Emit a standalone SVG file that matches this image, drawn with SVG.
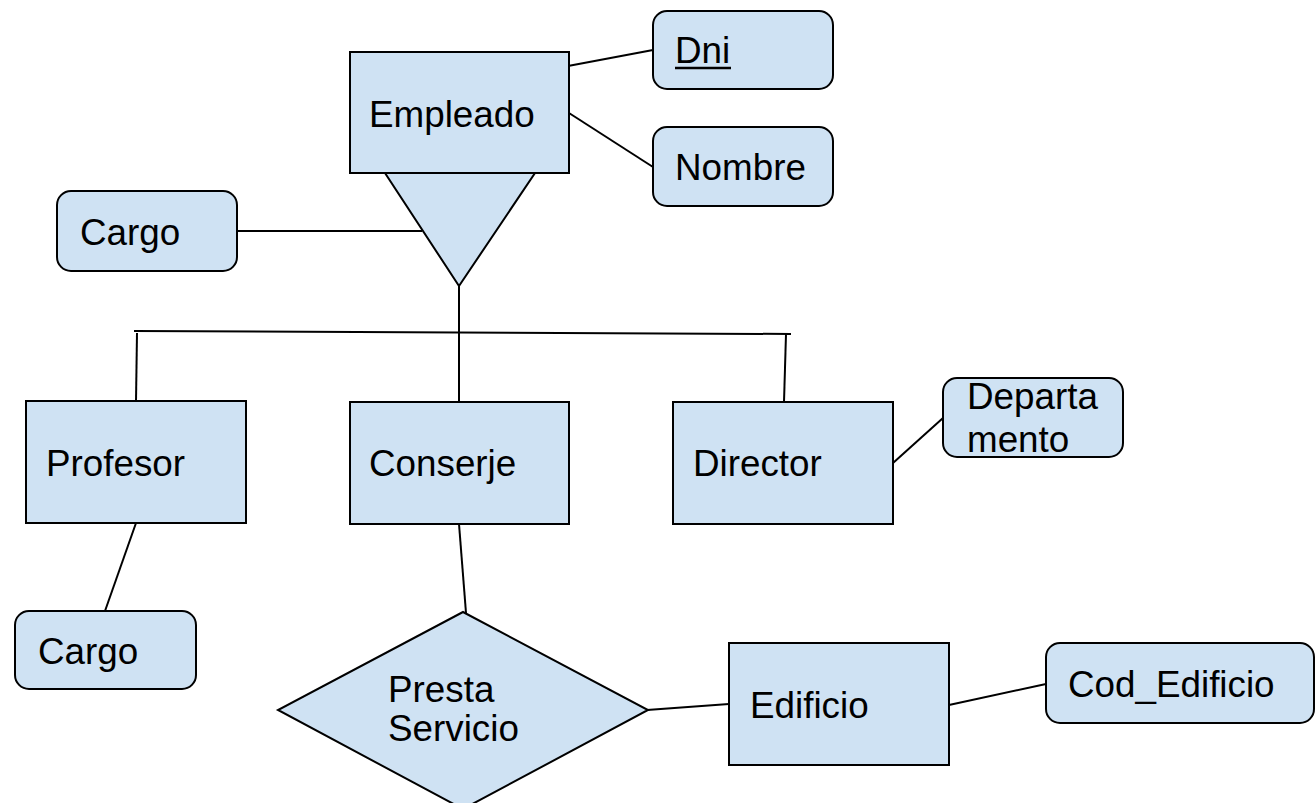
<svg xmlns="http://www.w3.org/2000/svg" width="1316" height="803" viewBox="0 0 1316 803">
<style>
.ent{fill:#cfe2f3;stroke:#000;stroke-width:2}
.attr{fill:#cfe2f3;stroke:#000;stroke-width:2}
.ln{stroke:#000;stroke-width:2;fill:none}
text{font-family:"Liberation Sans",Arial,sans-serif;font-size:36.8px;fill:#000}
</style>
<rect width="1316" height="803" fill="#fff"/>
<g id="connectors">
<line class="ln" x1="568" y1="66" x2="653" y2="50"/>
<line class="ln" x1="569" y1="113" x2="653" y2="167"/>
<line class="ln" x1="237" y1="231" x2="422" y2="231"/>
<line class="ln" x1="459" y1="286" x2="459" y2="402"/>
<line class="ln" x1="134" y1="331" x2="791" y2="334"/>
<line class="ln" x1="137" y1="333" x2="136" y2="401"/>
<line class="ln" x1="786" y1="334" x2="784" y2="402"/>
<line class="ln" x1="893" y1="463" x2="943" y2="418"/>
<line class="ln" x1="136" y1="523" x2="105" y2="611"/>
<line class="ln" x1="459" y1="524" x2="466" y2="613"/>
<line class="ln" x1="647" y1="710" x2="729" y2="704"/>
<line class="ln" x1="949" y1="705" x2="1046" y2="684"/>
</g>
<g id="isa">
<polygon class="ent" points="385,173 535,173 459,286"/>
</g>
<g id="empleado">
<rect class="ent" x="350" y="52" width="219" height="121"/>
<text x="369" y="127">Empleado</text>
</g>
<g id="dni">
<rect class="attr" x="653" y="11" width="180" height="78" rx="14"/>
<text x="675" y="63">Dni</text>
<line x1="675" y1="68" x2="731" y2="68" stroke="#000" stroke-width="2.5"/>
</g>
<g id="nombre">
<rect class="attr" x="653" y="127" width="180" height="79" rx="14"/>
<text x="675" y="180">Nombre</text>
</g>
<g id="cargo1">
<rect class="attr" x="57" y="191" width="180" height="80" rx="14"/>
<text x="80" y="245">Cargo</text>
</g>
<g id="profesor">
<rect class="ent" x="26" y="401" width="220" height="122"/>
<text x="46" y="476">Profesor</text>
</g>
<g id="conserje">
<rect class="ent" x="350" y="402" width="219" height="122"/>
<text x="369" y="476">Conserje</text>
</g>
<g id="director">
<rect class="ent" x="673" y="402" width="220" height="122"/>
<text x="693" y="476">Director</text>
</g>
<g id="departamento">
<rect class="attr" x="943" y="378" width="180" height="79" rx="14"/>
<text x="967" y="409">Departa</text>
<text x="967" y="452">mento</text>
</g>
<g id="cargo2">
<rect class="attr" x="15" y="611" width="181" height="78" rx="14"/>
<text x="38" y="664">Cargo</text>
</g>
<g id="presta-servicio">
<polygon class="ent" points="463,612 648,710 463,809 278,710"/>
<text x="388" y="702">Presta</text>
<text x="388" y="741">Servicio</text>
</g>
<g id="edificio">
<rect class="ent" x="729" y="643" width="220" height="122"/>
<text x="750" y="718">Edificio</text>
</g>
<g id="cod-edificio">
<rect class="attr" x="1046" y="643" width="268" height="80" rx="14"/>
<text x="1068" y="697">Cod_Edificio</text>
</g>
</svg>
